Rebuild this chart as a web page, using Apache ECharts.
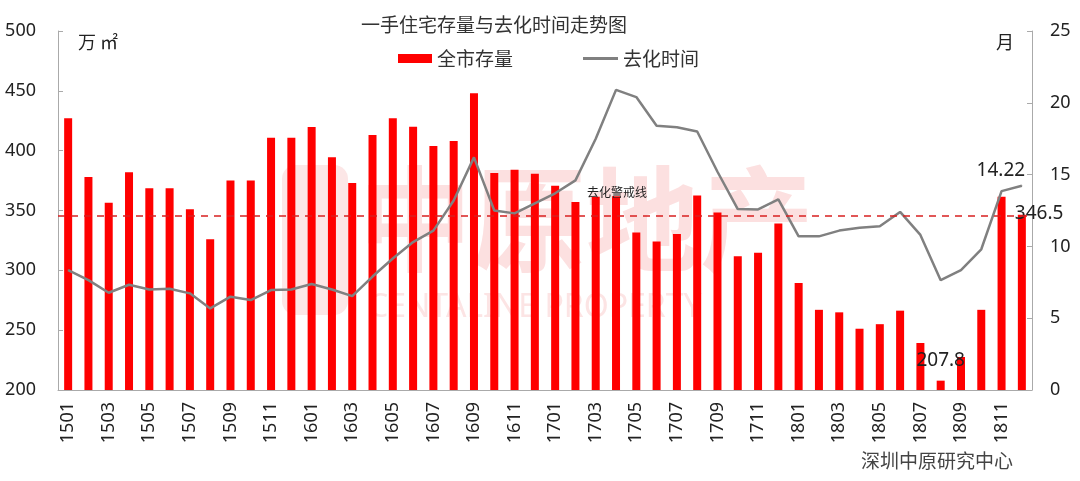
<!DOCTYPE html>
<html>
<head>
<meta charset="utf-8">
<title>一手住宅存量与去化时间走势图</title>
<script src="https://cdn.jsdelivr.net/npm/echarts@6/dist/echarts.min.js"></script>
<style>
  html, body { margin: 0; padding: 0; background: #fff; }
  #main { width: 1080px; height: 481px; }
</style>
</head>
<body>
<div id="main"></div>
<script>
(function (echarts) {

  'use strict';

  var months = [
    '1501', '1502', '1503', '1504', '1505', '1506', '1507', '1508', '1509', '1510', '1511', '1512',
    '1601', '1602', '1603', '1604', '1605', '1606', '1607', '1608', '1609', '1610', '1611', '1612',
    '1701', '1702', '1703', '1704', '1705', '1706', '1707', '1708', '1709', '1710', '1711', '1712',
    '1801', '1802', '1803', '1804', '1805', '1806', '1807', '1808', '1809', '1810', '1811', '1812'
  ];

  // 全市存量（万㎡）
  var stock = [
    427, 378, 356.5, 382, 368.5, 368.5, 351, 326, 375, 375, 410.8, 410.8,
    419.7, 394.4, 373, 413, 427, 420, 403.8, 408, 448, 381.3, 384, 380.7,
    370.7, 357, 361.5, 362, 331.7, 324, 330.3, 362.6, 348.4, 311.7, 314.7, 339.2,
    289.4, 267, 264.9, 251.2, 255, 266.3, 239.3, 207.8, 227.6, 267, 361.5, 346.5
  ];

  // 去化时间（月）
  var sellTime = [
    8.35, 7.65, 6.77, 7.33, 7.0, 7.05, 6.73, 5.68, 6.5, 6.26, 6.96, 7.0,
    7.38, 7.0, 6.54, 7.9, 9.16, 10.3, 11.1, 13.2, 16.2, 12.5, 12.3, 13.0,
    13.7, 14.6, 17.5, 20.9, 20.4, 18.4, 18.3, 18.0, 15.2, 12.6, 12.57, 13.27,
    10.7, 10.7, 11.1, 11.3, 11.4, 12.4, 10.8, 7.65, 8.35, 9.8, 13.85, 14.22
  ];

  var warnLevel = 345.5;
  var labelledStock = ['1808', '1812'];

  var font = '"Noto Sans", "Noto Sans CJK SC", sans-serif';
  var cjk = '"Noto Sans CJK SC", sans-serif';

  var stockData = stock.map(function (v, i) {
    var m = months[i];
    if (labelledStock.indexOf(m) < 0) { return v; }
    var label = m === '1812'
      ? {show: true, position: [-3, -1], align: 'left', verticalAlign: 'middle'}
      : {show: true, position: 'top', distance: 11};
    label.color = '#222';
    label.fontSize = 19;
    label.fontFamily = font;
    return {value: v, label: label};
  });

  var timeData = sellTime.map(function (v, i) {
    if (i !== sellTime.length - 1) { return v; }
    return {
      value: v,
      label: {show: true, position: 'top', distance: 5, offset: [-21, 0], color: '#222', fontSize: 19, fontFamily: font}
    };
  });

  var axisText = {color: '#222', fontSize: 18, fontFamily: font};

  echarts.init(document.getElementById('main')).setOption({
    backgroundColor: '#fff',
    animation: false,
    title: {
      text: '一手住宅存量与去化时间走势图',
      left: 356,
      top: 10,
      textStyle: {fontSize: 19, fontWeight: 'normal', color: '#333', fontFamily: cjk}
    },
    legend: [{
      data: ['全市存量'],
      left: 393,
      top: 44,
      itemWidth: 34,
      itemHeight: 9,
      icon: 'rect',
      textStyle: {fontSize: 19, color: '#333', fontFamily: cjk}
    }, {
      data: ['去化时间'],
      left: 578,
      top: 44,
      itemWidth: 35,
      itemHeight: 3,
      icon: 'rect',
      textStyle: {fontSize: 19, color: '#333', fontFamily: cjk}
    }],
    graphic: [
      {type: 'rect', left: 282, top: 165, z: -10, shape: {width: 66, height: 150, r: 14}, style: {fill: '#fce6e6'}},
      {type: 'text', left: 358, top: 162, z: -10, style: {text: '中原地产', font: 'bold 114px "Noto Sans CJK SC"', fill: '#fce0e0'}},
      {type: 'text', left: 368, top: 292, z: -10, style: {text: 'CENTALINE PROPERTY', font: '32px "Noto Sans"', fill: '#fce4e4'}},
      {type: 'text', left: 861, top: 451, style: {text: '深圳中原研究中心', font: '19px "Noto Sans CJK SC"', fill: '#444'}}
    ],
    grid: {left: 58, right: 48, top: 31, bottom: 91},
    xAxis: {
      type: 'category',
      data: months,
      axisLine: {lineStyle: {color: '#aaa', width: 1}},
      axisTick: {inside: true, length: 5, lineStyle: {color: '#aaa'}},
      axisLabel: Object.assign({rotate: 90, interval: 1, margin: 12}, axisText)
    },
    yAxis: [{
      type: 'value',
      min: 200,
      max: 500,
      interval: 50,
      name: '万 ㎡',
      nameLocation: 'end',
      nameGap: -20,
      nameTextStyle: {fontSize: 18, color: '#222', fontFamily: cjk, align: 'left', padding: [0, 0, 0, 20]},
      axisLine: {show: true, lineStyle: {color: '#aaa'}},
      axisTick: {show: true, inside: true, length: 5, lineStyle: {color: '#aaa'}},
      splitLine: {show: false},
      axisLabel: Object.assign({margin: 22}, axisText)
    }, {
      type: 'value',
      min: 0,
      max: 25,
      interval: 5,
      name: '月',
      nameLocation: 'end',
      nameGap: -20,
      nameTextStyle: {fontSize: 18, color: '#222', fontFamily: cjk, align: 'right', padding: [0, 18, 0, 0]},
      axisLine: {show: true, lineStyle: {color: '#aaa'}},
      axisTick: {show: true, inside: true, length: 5, lineStyle: {color: '#aaa'}},
      splitLine: {show: false},
      axisLabel: Object.assign({margin: 18}, axisText)
    }],
    series: [{
      name: '全市存量',
      type: 'bar',
      yAxisIndex: 0,
      barWidth: 8,
      itemStyle: {color: '#ff0000'},
      data: stockData,
      markLine: {
        silent: true,
        symbol: 'none',
        lineStyle: {color: '#d82020', type: [7, 6], width: 1.5},
        label: {
          show: true,
          position: 'insideMiddleTop',
          formatter: '去化警戒线',
          offset: [72, -12],
          color: '#222',
          fontSize: 12,
          fontFamily: cjk
        },
        data: [{yAxis: warnLevel}]
      }
    }, {
      name: '去化时间',
      type: 'line',
      yAxisIndex: 1,
      symbol: 'circle',
      symbolSize: 1,
      itemStyle: {color: '#808080'},
      lineStyle: {color: '#808080', width: 2.5},
      data: timeData
    }]
  });
})(window.echarts);
</script>
</body>
</html>
